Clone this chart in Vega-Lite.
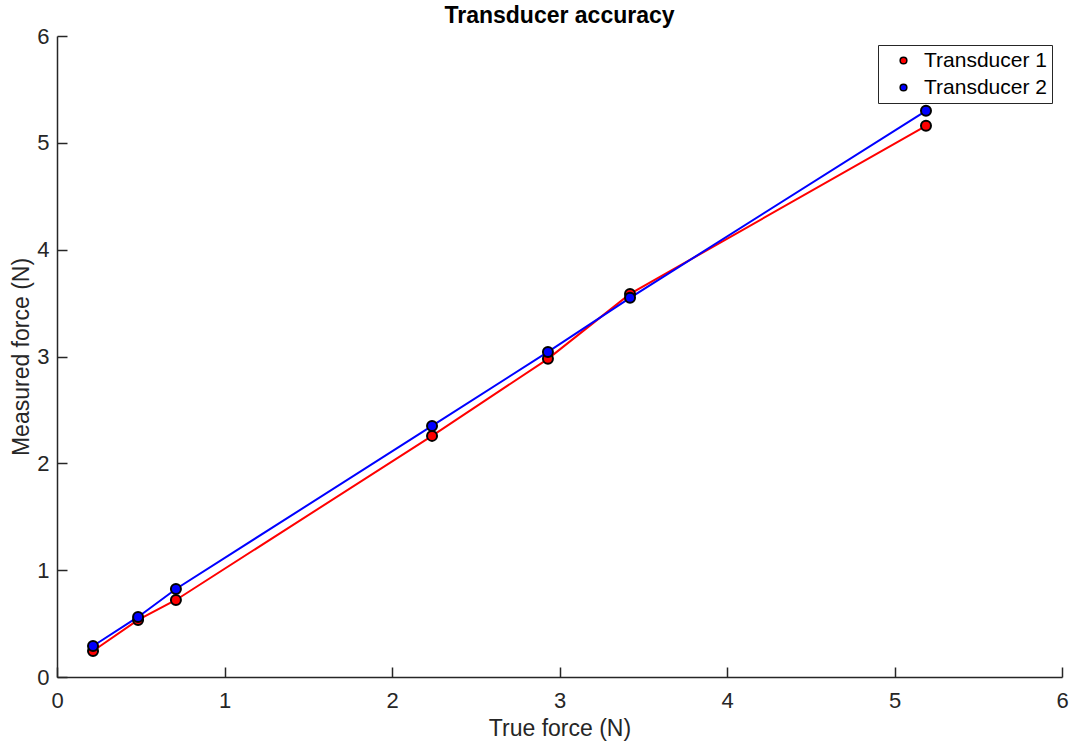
{
  "$schema": "https://vega.github.io/schema/vega-lite/v6.json",
  "width": 1005,
  "height": 641,
  "autosize": {"type": "none"},
  "padding": {"left": 57, "top": 36, "right": 8, "bottom": 65},
  "background": "white",
  "title": {"text": "Transducer accuracy", "font": "Liberation Sans", "fontSize": 23, "fontWeight": "bold", "color": "#000000", "offset": -3},
  "config": {
    "view": {"stroke": null},
    "font": "Liberation Sans"
  },
  "data": {"values": [
    {"series": "Transducer 1", "true": 0.215, "measured": 0.243},
    {"series": "Transducer 1", "true": 0.484, "measured": 0.534},
    {"series": "Transducer 1", "true": 0.710, "measured": 0.721},
    {"series": "Transducer 1", "true": 2.239, "measured": 2.257},
    {"series": "Transducer 1", "true": 2.931, "measured": 2.978},
    {"series": "Transducer 1", "true": 3.421, "measured": 3.586},
    {"series": "Transducer 1", "true": 5.188, "measured": 5.159},
    {"series": "Transducer 2", "true": 0.215, "measured": 0.290},
    {"series": "Transducer 2", "true": 0.484, "measured": 0.562},
    {"series": "Transducer 2", "true": 0.710, "measured": 0.824},
    {"series": "Transducer 2", "true": 2.239, "measured": 2.350},
    {"series": "Transducer 2", "true": 2.931, "measured": 3.043},
    {"series": "Transducer 2", "true": 3.421, "measured": 3.549},
    {"series": "Transducer 2", "true": 5.188, "measured": 5.300}
  ]},
  "encoding": {
    "x": {"field": "true", "type": "quantitative",
      "scale": {"domain": [0, 6], "nice": false, "zero": false},
      "axis": {"title": "True force (N)", "values": [0,1,2,3,4,5,6], "format": "d", "grid": false, "labelFlush": false,
        "domainColor": "#262626", "domainWidth": 1.5, "tickColor": "#262626", "tickWidth": 1.5, "tickSize": -10,
        "labelFontSize": 22, "labelColor": "#262626", "labelPadding": 23, "labelFont": "Liberation Sans",
        "titleFontSize": 23, "titleFontWeight": "normal", "titleColor": "#262626", "titlePadding": 6, "titleFont": "Liberation Sans"}},
    "y": {"field": "measured", "type": "quantitative",
      "scale": {"domain": [0, 6], "nice": false, "zero": false},
      "axis": {"title": "Measured force (N)", "values": [0,1,2,3,4,5,6], "format": "d", "grid": false, "labelFlush": false,
        "domainColor": "#262626", "domainWidth": 1.5, "tickColor": "#262626", "tickWidth": 1.5, "tickSize": -10,
        "labelFontSize": 22, "labelColor": "#262626", "labelPadding": 18, "labelFont": "Liberation Sans",
        "titleFontSize": 23, "titleFontWeight": "normal", "titleColor": "#262626", "titlePadding": 3, "titleFont": "Liberation Sans"}}
  },
  "layer": [
    {"mark": {"type": "line", "strokeWidth": 2},
     "encoding": {"detail": {"field": "series", "type": "nominal"},
       "stroke": {"condition": {"test": "datum.series === 'Transducer 1'", "value": "#ff0000"}, "value": "#0000ff"}}},
    {"mark": {"type": "point", "filled": true, "size": 100, "stroke": "#000000", "strokeWidth": 2, "opacity": 1},
     "encoding": {"fill": {"field": "series", "type": "nominal",
        "scale": {"domain": ["Transducer 1", "Transducer 2"], "range": ["#ff0000", "#0000ff"]},
        "legend": {"title": null, "orient": "none", "legendX": 821, "legendY": 9,
          "strokeColor": "#262626", "fillColor": "white", "padding": 5,
          "labelFontSize": 21, "labelColor": "#000000", "labelFont": "Liberation Sans",
          "symbolType": "circle", "symbolSize": 45, "symbolStrokeWidth": 1.5,
          "rowPadding": 5, "symbolOffset": 10, "labelOffset": 10}}}}
  ]
}
